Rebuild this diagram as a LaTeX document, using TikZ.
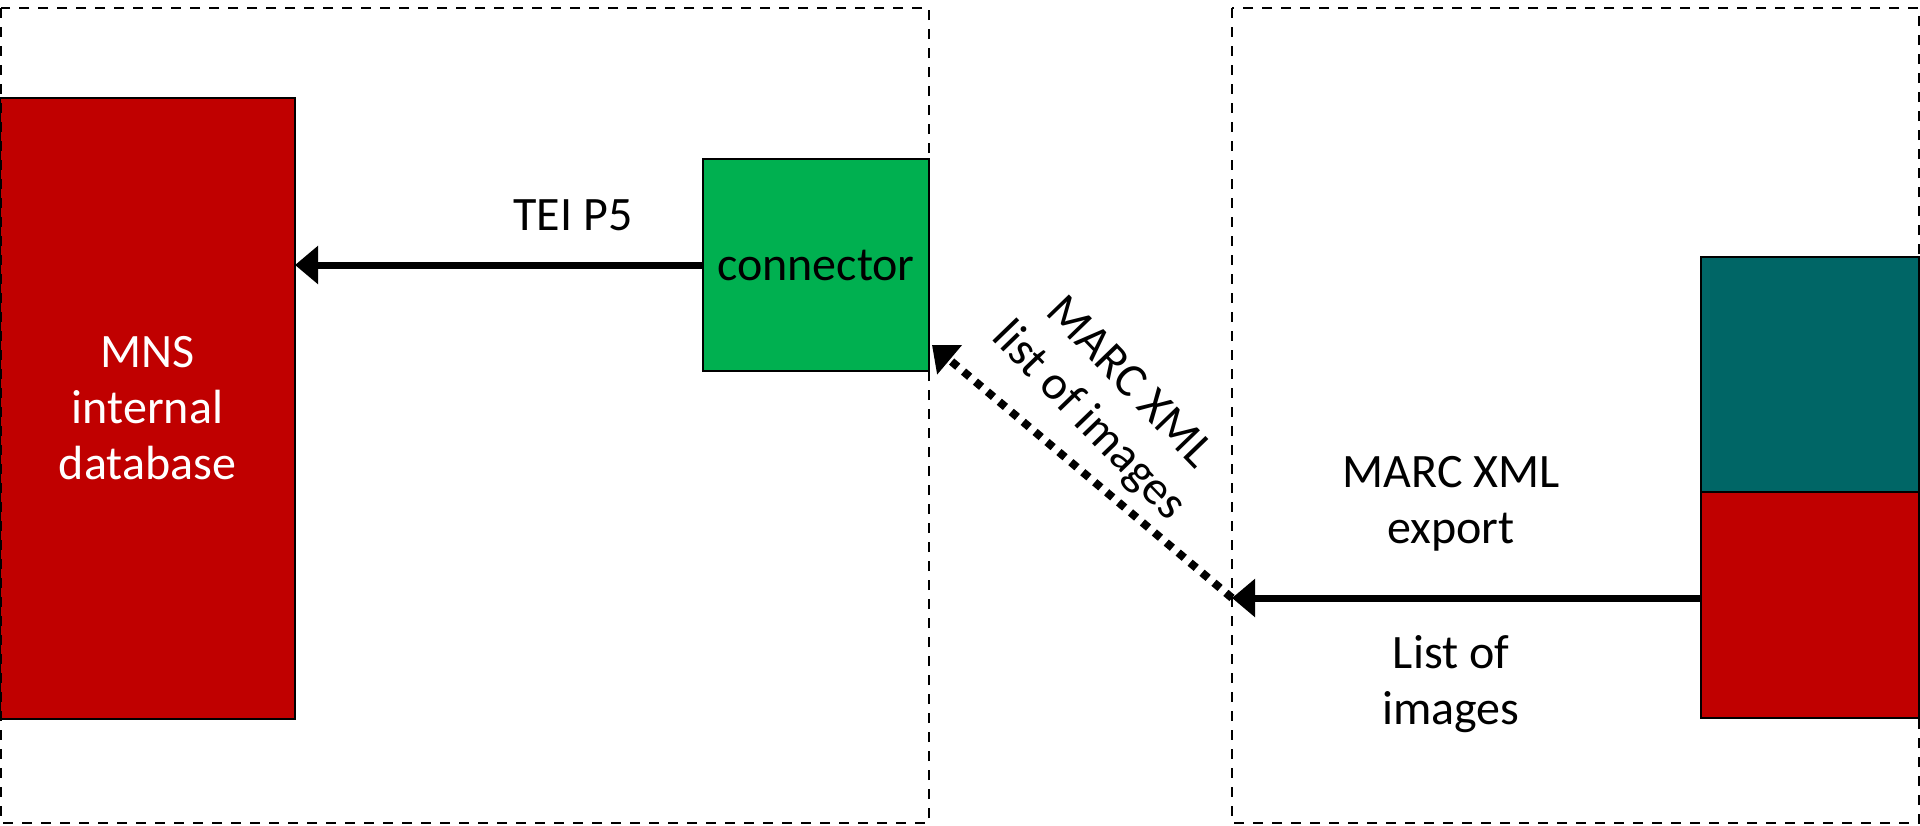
\documentclass[tikz,border=0pt]{standalone}
\usepackage{fontspec}
\setmainfont{Carlito}
\usetikzlibrary{arrows.meta, calc, positioning}
\definecolor{dbred}{RGB}{192,0,0}
\definecolor{conngreen}{RGB}{0,176,80}
\definecolor{srcteal}{RGB}{0,102,102}

\begin{document}
\begin{tikzpicture}[
	x=0.5pt, y=-0.5pt,
	every node/.style={font=\fontsize{24}{28}\selectfont, inner sep=0pt, outer sep=0pt},
	block/.style={draw=black, line width=1pt},
	frame/.style={draw=black, line width=1.1pt, dash pattern=on 5pt off 4.5pt},
	flow/.style={line width=3.5pt, -{Triangle[length=11.5pt, width=18.5pt]}},
	dotflow/.style={flow, line width=4pt, dash pattern=on 4pt off 3.8pt}
	]
		\useasboundingbox (0,0) rectangle (1920,825);
		
		\node[block, fill=dbred, text=white, align=center, minimum width=147.5pt, minimum height=310.5pt]
								(mnsdb)		at	(147.5,408.5)	{MNS\\internal\\database};
		\node[block, fill=conngreen, minimum width=113pt, minimum height=106pt]
								(conn)		at	(816,265)		{connector};
		\node[block, fill=srcteal, minimum width=109pt, minimum height=117.5pt]
								(srcupper)	at	(1810,374.5)	{};
		\node[block, fill=dbred, minimum width=109pt, minimum height=113pt]
								(srclower)	at	(1810,605)		{};
		
		\draw[frame] (1,8) rectangle (929,823);
		\draw[frame] (1232,8) rectangle (1919,823);
		
		\node					(tei)		at	(573,215)		{TEI P5};
		\node[align=center]		(marcexp)	at	(1451,504)		{MARC XML\\export};
		\node[align=center]		(imglist)	at	(1451,684)		{List of\\images};
		\node[align=center, rotate=-46]
								(marcimg)	at	(1108,403)		{MARC XML\\list of images};
		
		\coordinate				(drop)		at	(1232,598);
		\coordinate				(hit)		at	(932,345);
		
		\draw[flow] (conn.west) -- (mnsdb.east |- conn.west);
		\draw[flow] (srclower.west |- drop) -- (drop);
		\draw[dotflow] (drop) -- (hit);
	\end{tikzpicture}
\end{document}
